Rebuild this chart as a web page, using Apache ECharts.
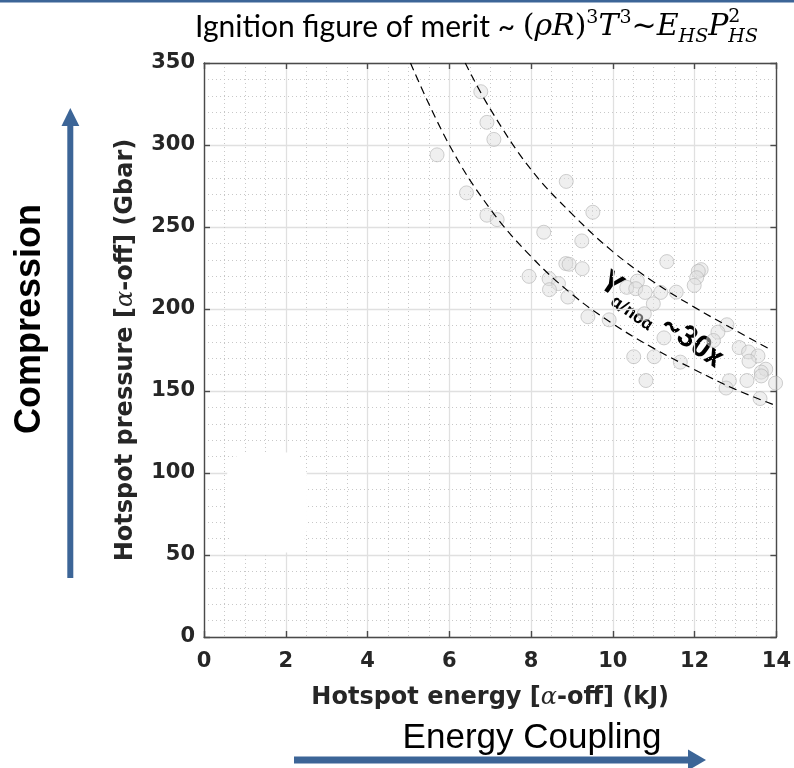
<!DOCTYPE html>
<html><head><meta charset="utf-8">
<script src="https://cdn.jsdelivr.net/npm/echarts@6/dist/echarts.min.js"></script>
<style>html,body{margin:0;padding:0;background:#fff}#c{width:794px;height:768px}</style>
</head><body><div id="c"></div>
<script>
// ---- data ----
const xTicks = [0, 2, 4, 6, 8, 10, 12, 14];
const yTicks = [0, 50, 100, 150, 200, 250, 300, 350];
const shotEnergy = [5.70, 6.77, 6.92, 7.09, 8.86, 6.42, 9.51, 6.92, 7.17, 8.31, 9.24, 8.85, 8.93, 9.25,
  11.32, 12.16, 12.09, 12.05, 11.99, 7.95, 8.44, 8.67, 8.45, 8.90, 10.60, 10.34, 10.56, 10.79, 11.17,
  11.55, 10.99, 10.77, 9.39, 9.91, 11.25, 12.79, 12.57, 12.46, 13.09, 13.32, 13.55, 13.33, 10.51, 11.01,
  11.65, 10.81, 13.74, 13.63, 13.63, 13.98, 12.85, 12.77, 13.28, 13.60];
const shotPressure = [294, 332.5, 313.8, 303.4, 277.8, 270.8, 259.0, 257.2, 254.5, 246.8, 241.5, 227.7, 227.3, 224.6,
  228.9, 224.0, 223.0, 219.1, 214.4, 219.9, 218.5, 215.5, 211.8, 207.3, 217.0, 213.2, 212.4, 210.1, 210.1,
  210.3, 203.2, 197.1, 195.3, 193.4, 182.4, 190.4, 185.9, 180.8, 176.5, 173.8, 171.4, 168.2, 170.9, 170.9,
  167.6, 156.4, 163.3, 161.5, 159.2, 154.8, 156.3, 151.8, 156.4, 145.4];
const upperCurveE = [6.39, 7.0, 8.0, 9.0, 10.0, 11.0, 12.0, 13.0, 13.8];
const upperCurveP = [350, 322, 285, 258, 235, 216.5, 201, 187, 176];
const lowerCurveE = [5.05, 6.0, 7.0, 8.0, 9.0, 10.0, 11.0, 12.0, 13.0, 14.0];
const lowerCurveP = [350, 300, 261, 232, 209, 191, 176, 163, 151, 141];
const blankPatchE = [1.54];
const blankPatchP = [82];

// ---- helpers ----
const mctx = document.createElement('canvas').getContext('2d');
function tw(t, s) {
  mctx.font = (s.fontStyle || 'normal') + ' ' + (s.fontWeight || 'normal') + ' ' + s.fontSize + 'px ' + s.fontFamily;
  return mctx.measureText(t).width;
}
function textRun(pieces, x0, baseline) {
  const out = [];
  let x = x0;
  pieces.forEach(p => {
    const s = { fontFamily: p.f, fontSize: p.s, fontStyle: p.i ? 'italic' : 'normal', fontWeight: p.b ? 'bold' : 'normal' };
    const by = baseline + (p.dy || 0);
    out.push({ type: 'text', x: x, y: by - 0.32 * p.s, silent: true,
      style: Object.assign({ text: p.t, fill: p.c || '#000', align: 'left', verticalAlign: 'middle' }, s) });
    if (!p.stack) x += tw(p.t, s) + (p.gap || 0);
  });
  return { els: out, end: x };
}

const SANS = 'Lato, "Open Sans"';
const BOLDSANS = 'Roboto, "Noto Sans"';
const SERIF = '"DejaVu Serif"';
const M = 30, S = 19;
const titleRun = textRun([
  { t: 'Ignition figure of merit ~ ', f: SANS, s: 30 },
  { t: '(', f: SERIF, s: M },
  { t: 'ρR', f: SERIF, s: M, i: true },
  { t: ')', f: SERIF, s: M },
  { t: '3', f: SERIF, s: S, dy: -13 },
  { t: 'T', f: SERIF, s: M, i: true, gap: 1 },
  { t: '3', f: SERIF, s: S, dy: -13 },
  { t: '~', f: SERIF, s: M },
  { t: 'E', f: SERIF, s: M, i: true },
  { t: 'HS', f: SERIF, s: S, i: true, dy: 6 },
  { t: 'P', f: SERIF, s: M, i: true },
  { t: '2', f: SERIF, s: S, dy: -14, stack: true },
  { t: 'HS', f: SERIF, s: S, i: true, dy: 6 }
], 195, 37);

const yieldRun = textRun([
  { t: 'Y', f: BOLDSANS, s: 31, b: true },
  { t: 'α/noα', f: BOLDSANS, s: 18, b: true, dy: 7 },
  { t: ' ~30x', f: BOLDSANS, s: 30, b: true }
], 0, 0);

const BLUE = '#3c6597';
const AXC = '#4a4a4a';
const LABC = '#262626';
const tickFont = { fontFamily: '"DejaVu Sans"', fontWeight: 'bold', fontSize: 21, color: LABC };
const nameStyle = {
  fontFamily: '"DejaVu Sans"', fontWeight: 'bold', fontSize: 24, color: LABC,
  rich: { a: { fontFamily: SERIF, fontStyle: 'italic', fontWeight: 'normal', fontSize: 24, color: LABC } }
};

function axisBase(ticks) {
  return {
    type: 'value', min: ticks[0], max: ticks[ticks.length - 1], interval: ticks[1] - ticks[0],
    axisLine: { show: true, onZero: false, lineStyle: { color: AXC, width: 1.4 } },
    axisTick: { show: true, inside: true, length: 6, lineStyle: { color: AXC, width: 1.4 } }
  };
}

const option = {
  animation: false,
  backgroundColor: '#fff',
  grid: { left: 204, right: 16, top: 63, bottom: 131, containLabel: false },
  xAxis: [
    Object.assign(axisBase(xTicks), {
      position: 'bottom',
      name: 'Hotspot energy [{a|α}-off] (kJ)', nameLocation: 'middle', nameGap: 49,
      nameTextStyle: nameStyle,
      axisLabel: Object.assign({ margin: 14 }, tickFont),
      splitLine: { show: true, lineStyle: { color: '#e0e0e0', width: 1.3 } },
      minorTick: { show: false, splitNumber: 4 },
      minorSplitLine: { show: true, lineStyle: { color: '#c8c8c8', width: 1, type: [1, 3] } }
    }),
    Object.assign(axisBase(xTicks), { position: 'top', axisLabel: { show: false }, splitLine: { show: false } })
  ],
  yAxis: [
    Object.assign(axisBase(yTicks), {
      position: 'left',
      name: 'Hotspot pressure [{a|α}-off] (Gbar)', nameLocation: 'middle', nameGap: 66, nameRotate: 90,
      nameTextStyle: nameStyle,
      axisLabel: Object.assign({ margin: 9 }, tickFont),
      splitLine: { show: true, lineStyle: { color: '#e0e0e0', width: 1.3 } },
      minorTick: { show: false, splitNumber: 5 },
      minorSplitLine: { show: true, lineStyle: { color: '#c8c8c8', width: 1, type: [1, 3] } }
    }),
    Object.assign(axisBase(yTicks), { position: 'right', axisLabel: { show: false }, splitLine: { show: false } })
  ],
  series: [
    {
      type: 'scatter', silent: true, z: 1,
      data: blankPatchE.map((e, i) => [e, blankPatchP[i]]),
      symbol: 'roundRect', symbolSize: [80, 100],
      itemStyle: { color: '#ffffff', opacity: 1 }
    },
    {
      type: 'scatter', z: 2,
      data: shotEnergy.map((e, i) => [e, shotPressure[i]]),
      symbol: 'circle', symbolSize: 14,
      itemStyle: { color: 'rgba(222,222,222,0.6)', borderColor: 'rgba(180,180,180,0.8)', borderWidth: 1 }
    },
    {
      type: 'line', z: 3, smooth: 0.4, symbol: 'none',
      data: upperCurveE.map((e, i) => [e, upperCurveP[i]]),
      lineStyle: { color: '#000', width: 1.2, type: [8, 5] }
    },
    {
      type: 'line', z: 3, smooth: 0.4, symbol: 'none',
      data: lowerCurveE.map((e, i) => [e, lowerCurveP[i]]),
      lineStyle: { color: '#000', width: 1.2, type: [8, 5] }
    }
  ],
  graphic: [
    { type: 'rect', shape: { x: 0, y: 0, width: 794, height: 2.5 }, style: { fill: BLUE }, silent: true },
    { type: 'group', silent: true, children: titleRun.els },
    { type: 'group', silent: true, x: 597, y: 288, rotation: -35 * Math.PI / 180, children: yieldRun.els },
    // vertical arrow (Compression)
    { type: 'rect', shape: { x: 67.3, y: 122, width: 6, height: 456 }, style: { fill: BLUE }, silent: true },
    { type: 'polygon', shape: { points: [[61.5, 126], [79.3, 126], [70.3, 108]] }, style: { fill: BLUE }, silent: true },
    { type: 'text', x: 30, y: 319, rotation: Math.PI / 2, silent: true,
      style: { text: 'Compression', fontFamily: '"Liberation Sans", Arial', fontWeight: 'bold', fontSize: 36, fill: '#000', align: 'center', verticalAlign: 'middle' } },
    // horizontal arrow (Energy Coupling)
    { type: 'rect', shape: { x: 294, y: 756.5, width: 396, height: 7 }, style: { fill: BLUE }, silent: true },
    { type: 'polygon', shape: { points: [[688, 749.5], [706, 760], [688, 770.5]] }, style: { fill: BLUE }, silent: true },
    { type: 'text', x: 532, y: 738, silent: true,
      style: { text: 'Energy Coupling', fontFamily: '"Liberation Sans", Arial', fontSize: 35, fill: '#000', align: 'center', verticalAlign: 'middle' } }
  ]
};

const chart = echarts.init(document.getElementById('c'), null, { renderer: 'canvas' });
chart.setOption(option);
</script>
</body></html>
